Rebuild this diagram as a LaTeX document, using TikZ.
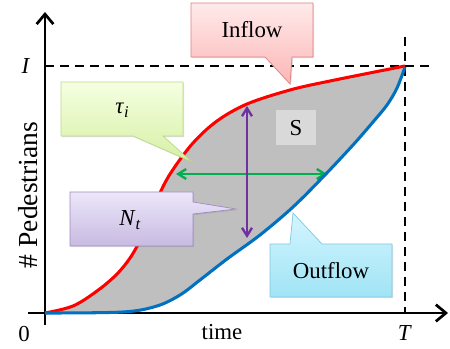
\documentclass[tikz,border=0pt]{standalone}
\usepackage{fontspec}
\setmainfont{Liberation Serif}
\usetikzlibrary{arrows.meta,shadows}

\definecolor{inred}{RGB}{255,0,0}
\definecolor{outblue}{RGB}{0,112,192}
\definecolor{tgreen}{RGB}{0,176,80}
\definecolor{npurple}{RGB}{112,48,160}
\definecolor{areagrey}{RGB}{191,191,191}
\definecolor{sgrey}{RGB}{217,217,217}

\begin{document}
\begin{tikzpicture}[
		x=0.03cm, y=-0.03cm,
		axis/.style={line width=2.3pt, -{Straight Barb[length=3mm,width=5mm]}},
		guide/.style={line width=2.1pt, dash pattern=on 7.7pt off 5.1pt},
		flow/.style={line width=2.6pt},
		span/.style={line width=2pt, {Straight Barb[length=2.4mm,width=3mm]}-{Straight Barb[length=2.4mm,width=3mm]}},
		callbox/.style={line width=0.6pt, drop shadow={shadow xshift=1pt,shadow yshift=-1pt,opacity=0.25}},
		lbl/.style={font=\rmfamily\fontsize{19.5}{23}\selectfont}
	]
	\useasboundingbox (0,0) rectangle (450,349);

	% area between the two curves
	\fill[areagrey] plot[smooth, tension=0.55] coordinates {(45,313) (73,306) (97,291) (117,274) (132,255) (145,230) (160,193) (172,171) (193,143) (217,121) (247,104) (290,90) (330,81) (405,66)}
		-- plot[smooth, tension=0.55] coordinates {(405,67) (397,88) (387,105) (373,122) (353,145) (323,177) (293,207) (260,235) (227,259) (200,280) (180,295) (157,306) (123,312) (45,313)} -- cycle;
	\fill[sgrey] (276,110) rectangle (316,145);
	\node[lbl] (s) at (296,128) {S};

	% axes and limits
	\draw[guide] (45,66) -- (433,66);
	\draw[guide] (405,37) -- (405,313);
	\draw[axis] (28,313) -- (448,313);
	\draw[axis] (45,325) -- (45,12);

	% measures
	\draw[span, tgreen] (176,174) -- (327,174);
	\draw[span, npurple] (247,106) -- (247,238);

	% cumulative curves
	\draw[flow, inred] plot[smooth, tension=0.55] coordinates {(45,313) (73,306) (97,291) (117,274) (132,255) (145,230) (160,193) (172,171) (193,143) (217,121) (247,104) (290,90) (330,81) (405,66)};
	\draw[flow, outblue] plot[smooth, tension=0.55] coordinates {(45,313) (123,312) (157,306) (180,295) (200,280) (227,259) (260,235) (293,207) (323,177) (353,145) (373,122) (387,105) (397,88) (405,67)};

	% callouts
	\path[callbox, draw={rgb,255:red,220;green,130;blue,130}, top color={rgb,255:red,255;green,234;blue,234}, bottom color={rgb,255:red,252;green,182;blue,182}]
		(191,3) -- (313,3) -- (313,57) -- (292,57) -- (290,84) -- (265,57) -- (191,57) -- cycle;
	\node[lbl] (inflow) at (252,30) {Inflow};

	\path[callbox, draw={rgb,255:red,190;green,215;blue,140}, top color={rgb,255:red,245;green,255;blue,225}, bottom color={rgb,255:red,214;green,240;blue,165}]
		(61,82) -- (183,82) -- (183,136) -- (163,136) -- (192,162) -- (133,136) -- (61,136) -- cycle;
	\node[lbl] (tau) at (122,110) {\textit{τ}\raisebox{-0.35ex}{\fontsize{14}{16}\selectfont\textit{i}}};

	\path[callbox, draw={rgb,255:red,160;green,140;blue,190}, top color={rgb,255:red,236;green,231;blue,250}, bottom color={rgb,255:red,200;green,186;blue,225}]
		(70,192) -- (193,192) -- (193,202) -- (236,209) -- (193,214) -- (193,246) -- (70,246) -- cycle;
	\node[lbl] (nt) at (130,220) {\textit{N}\raisebox{-0.35ex}{\fontsize{14}{16}\selectfont\textit{t}}};

	\path[callbox, draw={rgb,255:red,130;green,200;blue,225}, top color={rgb,255:red,212;green,245;blue,255}, bottom color={rgb,255:red,160;green,228;blue,245}]
		(270,244) -- (290,244) -- (293,213) -- (322,244) -- (392,244) -- (392,297) -- (270,297) -- cycle;
	\node[lbl] (outflow) at (331,271) {Outflow};

	% axis labels
	\node[lbl] (ilabel) at (26,66) {\textit{I}};
	\node[lbl] (zero) at (24,334) {0};
	\node[lbl] (time) at (222,332) {time};
	\node[lbl] (tlabel) at (405,333) {\textit{T}};
	\node[font=\rmfamily\fontsize{23.5}{27}\selectfont, rotate=90] (ylabel) at (28,195) {\# Pedestrians};
\end{tikzpicture}
\end{document}
